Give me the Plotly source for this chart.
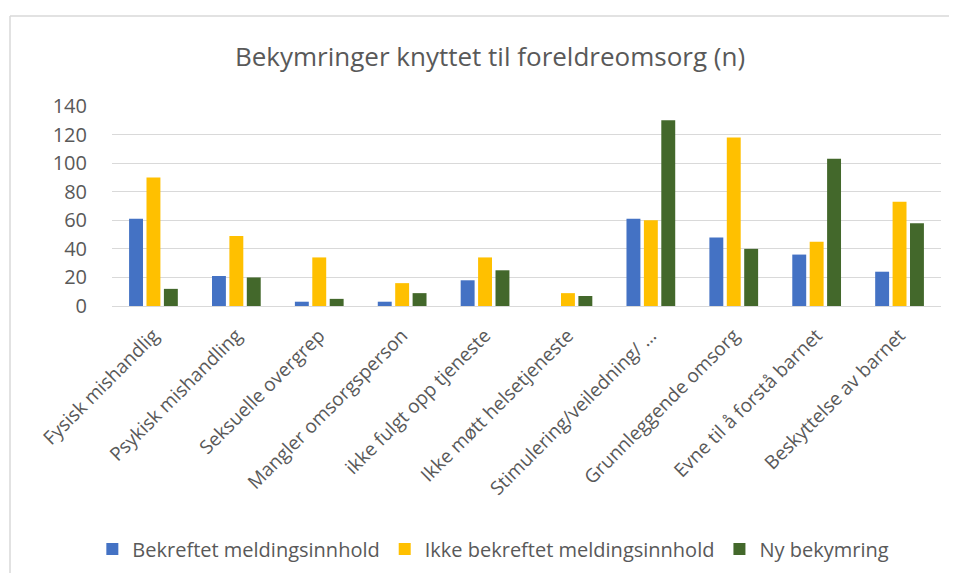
import plotly.graph_objects as go

categories = [
    "Fysisk mishandlig", "Psykisk mishandling", "Seksuelle overgrep",
    "Mangler omsorgsperson", "ikke fulgt opp tjeneste", "Ikke møtt helsetjeneste",
    "Stimulering/veiledning/ …", "Grunnleggende omsorg", "Evne til å forstå barnet",
    "Beskyttelse av barnet",
]
bekreftet = [61, 21, 3, 3, 18, 0, 61, 48, 36, 24]
ikke_bekreftet = [90, 49, 34, 16, 34, 9, 60, 118, 45, 73]
ny_bekymring = [12, 20, 5, 9, 25, 7, 130, 40, 103, 58]

series = [
    ("Bekreftet meldingsinnhold", bekreftet, "#4472C4"),
    ("Ikke bekreftet meldingsinnhold", ikke_bekreftet, "#FFC000"),
    ("Ny bekymring", ny_bekymring, "#43682B"),
]

fig = go.Figure()
for name, vals, col in series:
    fig.add_trace(go.Bar(x=categories, y=vals, name=name, marker_color=col,
                         marker_line_width=0))

# page body has an 8px margin on every side, so the figure is smaller than the window
W, H = 941, 565
fig.update_layout(
    width=W, height=H,
    paper_bgcolor="white", plot_bgcolor="white",
    margin=dict(l=104, r=8, t=98, b=267, autoexpand=False),
    barmode="group", bargap=0.37, bargroupgap=0.2,
    font=dict(family="Open Sans, sans-serif", color="#595959"),
    title=dict(text="Bekymringer knyttet til foreldreomsorg (n)",
               x=482 / W, xanchor="center", y=1 - 49 / H, yanchor="middle",
               font=dict(size=26, color="#595959")),
    legend=dict(orientation="h", x=0.46, xanchor="center", y=-1.215, yanchor="middle",
                font=dict(size=20, color="#595959"), itemwidth=30,
                traceorder="normal"),
    showlegend=True,
)
fig.update_xaxes(tickangle=-45, tickfont=dict(size=19, color="#595959"),
                 showline=True, linecolor="#D9D9D9", linewidth=1, ticks="",
                 ticklabelstandoff=10, automargin=False)
fig.update_yaxes(range=[0, 140], dtick=20, tickfont=dict(size=20, color="#595959"),
                 gridcolor="#D9D9D9", gridwidth=1, zeroline=False, ticks="",
                 ticklabelstandoff=24, automargin=False)

# chart border (only top and left edges are inside the picture)
bx = (2 - 104) / 829
by = 1 + (98 - 8) / 200
fig.add_shape(type="line", xref="paper", yref="paper", x0=bx, x1=1.3, y0=by, y1=by,
              line=dict(color="#D9D9D9", width=1.5), layer="below")
fig.add_shape(type="line", xref="paper", yref="paper", x0=bx, x1=bx, y0=by, y1=-1.5,
              line=dict(color="#D9D9D9", width=1.5), layer="below")

fig.write_html("out.html")
